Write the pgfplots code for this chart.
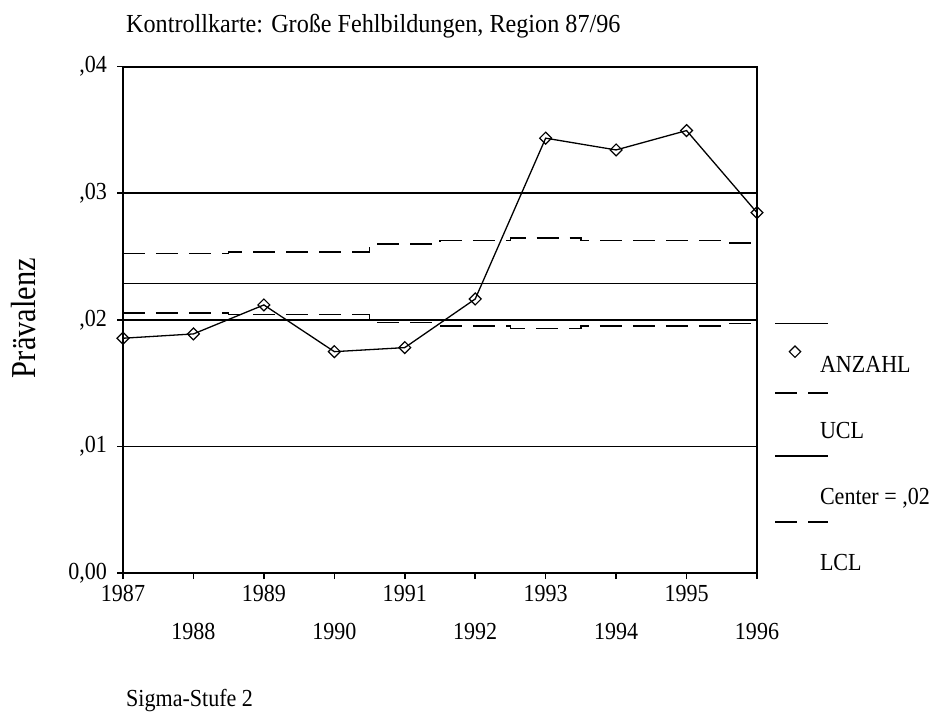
\documentclass[border=0pt]{standalone}
\usepackage{fontspec}
\setmainfont{Liberation Serif}
\usepackage{graphicx}
\usepackage{pgfplots}
\pgfplotsset{compat=1.18}
\newcommand\sq[1]{\scalebox{0.9}[1]{#1}}
\newcommand\lfont{\fontsize{24.5}{29}\selectfont}
\begin{document}
\begin{tikzpicture}
\useasboundingbox (-123pt,-142pt) rectangle (816pt,573pt);
\begin{axis}[
  at={(0pt,0pt)}, anchor=south west,
  scale only axis, width=634pt, height=506.5pt,
  xmin=1987, xmax=1996, ymin=0, ymax=0.04,
  scaled y ticks=false,
  clip=false,
  axis line style={black, line width=2pt},
  xtick={1987,1989,1991,1993,1995},
  xticklabels={{\sq{1987}},{\sq{1989}},{\sq{1991}},{\sq{1993}},{\sq{1995}}},
  extra x ticks={1988,1990,1992,1994,1996},
  extra x tick labels={{\sq{1988}},{\sq{1990}},{\sq{1992}},{\sq{1994}},{\sq{1996}}},
  extra x tick style={xticklabel style={yshift=-38pt}},
  ytick={0,0.01,0.02,0.03,0.04},
  yticklabels={{\sq{0,00}},{\sq{,01}},{\sq{,02}},{\sq{,03}},{\sq{,04}}},
  tick align=outside, major tick length=6pt,
  tick style={black, line width=1.5pt},
  xtick pos=left, ytick pos=left,
  ymajorgrids, grid style={black, line width=1.5pt},
  tick label style={font=\lfont, text=black},
  xticklabel style={inner sep=0pt, anchor=north, yshift=-6pt},
  yticklabel style={inner sep=0pt, anchor=east, xshift=-10pt},
  legend style={at={(1.0994,0.4916)}, anchor=north west, draw=none, fill=none,
    inner sep=0pt, outer sep=0pt, row sep=0pt, column sep=0pt, font=\lfont,
    nodes={inner sep=0pt, text height=48pt, text depth=18pt, anchor=base west}},
  legend cell align=left,
]
% center line
\addplot[black, line width=1.5pt, forget plot] coordinates {(1987,0.02286) (1996,0.02286)};
% UCL
\addplot[black, line width=1.6pt, dash pattern=on 22pt off 11pt, const plot mark mid, forget plot] coordinates {
(1987,0.02522) (1988,0.02522) (1989,0.02536) (1990,0.02536) (1991,0.02599)
(1992,0.02625) (1993,0.02644) (1994,0.02625) (1995,0.02625) (1996,0.02604)};
% LCL
\addplot[black, line width=1.6pt, dash pattern=on 22pt off 11pt, const plot mark mid, forget plot] coordinates {
(1987,0.02054) (1988,0.02054) (1989,0.02040) (1990,0.02040) (1991,0.01978)
(1992,0.01952) (1993,0.01930) (1994,0.01950) (1995,0.01950) (1996,0.01969)};
% ANZAHL
\addplot[black, line width=1.3pt, mark=square, mark size=4.2pt,
  mark options={rotate=45, fill=white, solid, line width=1.2pt}, forget plot] coordinates {
(1987,0.01854) (1988,0.01888) (1989,0.02117) (1990,0.01748) (1991,0.01780)
(1992,0.02164) (1993,0.03434) (1994,0.03341) (1995,0.03494) (1996,0.02846)};
% legend
\addlegendimage{legend image code/.code={
  \draw[overlay, black, line width=1.5pt] (-45pt,48.7pt) -- (8pt,48.7pt);
  \path[overlay] plot[mark=square, mark size=4pt, mark options={rotate=45, draw=black, fill=white, line width=1.2pt}] coordinates {(-25pt,20.3pt)};
}}
\addlegendentry{\sq{ANZAHL}}
\addlegendimage{legend image code/.code={
  \draw[overlay, black, line width=1.6pt, dash pattern=on 22pt off 11pt] (-45pt,45pt) -- (8pt,45pt);
}}
\addlegendentry{\sq{UCL}}
\addlegendimage{legend image code/.code={
  \draw[overlay, black, line width=1.5pt] (-45pt,48pt) -- (8pt,48pt);
}}
\addlegendentry{\sq{Center = ,02}}
\addlegendimage{legend image code/.code={
  \draw[overlay, black, line width=1.6pt, dash pattern=on 22pt off 11pt] (-45pt,48.3pt) -- (8pt,48.3pt);
}}
\addlegendentry{\sq{LCL}}
\end{axis}
\node[anchor=base west, inner sep=0pt, font=\fontsize{26}{31}\selectfont] at (3pt,540pt)
  {\scalebox{0.93}[1]{Kontrollkarte: Große Fehlbildungen, Region 87/96}};
\node[anchor=base, inner sep=0pt, rotate=90, font=\fontsize{35}{40}\selectfont] at (-87pt,255pt)
  {\scalebox{0.87}[1]{Prävalenz}};
\node[anchor=base west, inner sep=0pt, font=\lfont] at (3pt,-133pt) {\sq{Sigma-Stufe 2}};
\end{tikzpicture}
\end{document}
